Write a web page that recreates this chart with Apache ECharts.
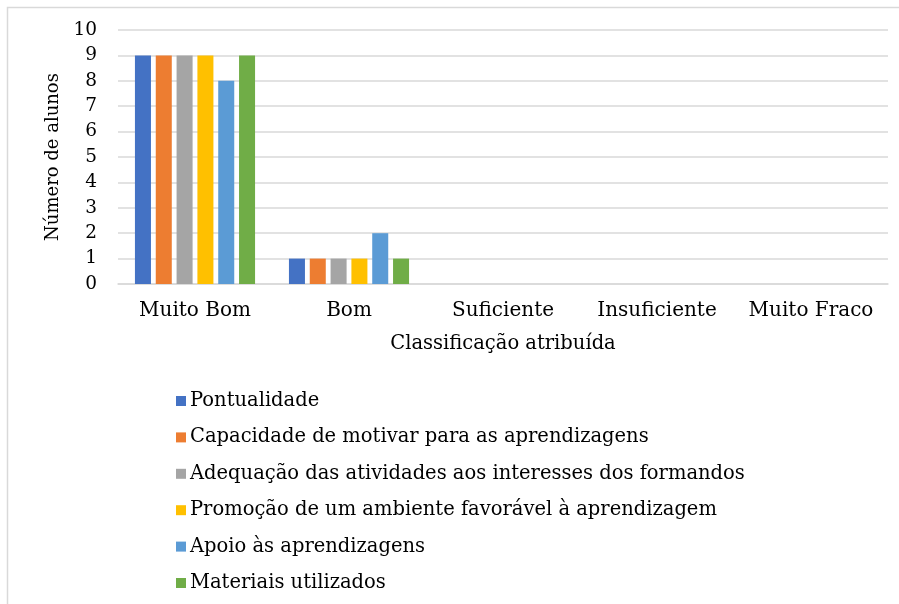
<!DOCTYPE html>
<html>
<head>
<meta charset="utf-8">
<script src="https://cdn.jsdelivr.net/npm/echarts@6/dist/echarts.min.js"></script>
<style>
  html, body { margin: 0; padding: 0; background: #fff; }
  #main { width: 899px; height: 604px; }
</style>
</head>
<body>
<div id="main"></div>
<script>
// categorias do eixo x
var categorias = ['Muito Bom', 'Bom', 'Suficiente', 'Insuficiente', 'Muito Fraco'];
// séries (número de alunos)
var pontualidade = [9, 1, 0, 0, 0];
var capacidade = [9, 1, 0, 0, 0];
var adequacao = [9, 1, 0, 0, 0];
var promocao = [9, 1, 0, 0, 0];
var apoio = [8, 2, 0, 0, 0];
var materiais = [9, 1, 0, 0, 0];
var nomes = [
    'Pontualidade',
    'Capacidade de motivar para as aprendizagens',
    'Adequação das atividades aos interesses dos formandos',
    'Promoção de um ambiente favorável à aprendizagem',
    'Apoio às aprendizagens',
    'Materiais utilizados'
];
var cores = ['#4472C4', '#ED7D31', '#A5A5A5', '#FFC000', '#5B9BD5', '#70AD47'];

(function(){
    var myChart = echarts.init(document.getElementById('main'));
    var fonte = '"DejaVu Serif", "Liberation Serif", serif';
    var dados = [pontualidade, capacidade, adequacao, promocao, apoio, materiais];
    var series = dados.map(function(d, i){
        return {
            name: nomes[i],
            type: 'bar',
            data: d,
            barGap: '30%',
            barCategoryGap: '22%',
            itemStyle: { color: cores[i] }
        };
    });
    var option = {
        animation: false,
        color: cores,
        // moldura cinzenta
        graphic: [{
            type: 'rect',
            shape: { x: 7.5, y: 7.5, width: 1000, height: 1000 },
            style: { fill: 'none', stroke: '#d9d9d9', lineWidth: 1.5 }
        }],
        grid: { left: 118, right: 11, top: 30, bottom: 320 },
        legend: {
            orient: 'vertical',
            left: 171,
            top: 386,
            itemWidth: 10,
            itemHeight: 10,
            itemGap: 16.4,
            icon: 'rect',
            data: nomes,
            textStyle: { fontFamily: fonte, fontSize: 19.5, color: '#000', lineHeight: 20, padding: [0, 0, 0, -1] }
        },
        xAxis: {
            type: 'category',
            data: categorias,
            name: 'Classificação atribuída',
            nameLocation: 'middle',
            nameGap: 50,
            nameTextStyle: { fontFamily: fonte, fontSize: 19.5, color: '#000' },
            axisLine: { lineStyle: { color: '#d9d9d9', width: 1.5 } },
            axisTick: { show: false },
            axisLabel: { interval: 0, fontFamily: fonte, fontSize: 20, color: '#000', margin: 17 }
        },
        yAxis: {
            type: 'value',
            min: 0,
            max: 10,
            interval: 1,
            name: 'Número de alunos',
            nameLocation: 'middle',
            nameGap: 56,
            nameTextStyle: { fontFamily: fonte, fontSize: 18, color: '#000' },
            axisLine: { show: false },
            axisTick: { show: false },
            splitLine: { lineStyle: { color: '#d9d9d9', width: 1.5 } },
            axisLabel: { fontFamily: fonte, fontSize: 18.5, color: '#000', margin: 21 }
        },
        series: series
    };
    myChart.setOption(option);
})();
</script>
</body>
</html>
